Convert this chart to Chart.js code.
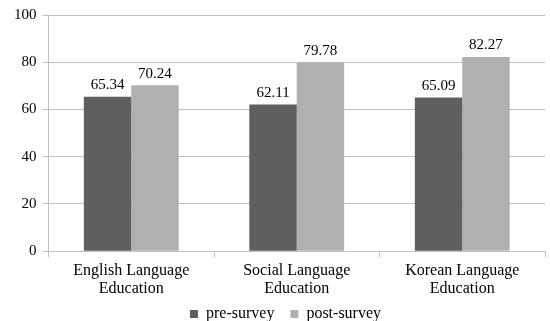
<!DOCTYPE html>
<html><head><meta charset="utf-8">
<script src="https://cdn.jsdelivr.net/npm/chart.js@4/dist/chart.umd.min.js"></script>
<style>html,body{margin:0;padding:0;background:#fff}#wrap{width:550px;height:321px}</style>
</head><body><div id="wrap"><canvas id="c" width="550" height="321"></canvas></div>
<script>
const categories = [["English Language","Education"],["Social Language","Education"],["Korean Language","Education"]];
const preSurvey = [65.34, 62.11, 65.09];
const postSurvey = [70.24, 79.78, 82.27];
const yTicks = [0,20,40,60,80,100];

const labelPlugin = {
  id: 'vals',
  afterDatasetsDraw(chart){
    const ctx = chart.ctx;
    ctx.save();
    ctx.font = '15px "Liberation Serif", "Times New Roman", serif';
    ctx.fillStyle = '#000';
    ctx.textAlign = 'center';
    ctx.textBaseline = 'bottom';
    chart.data.datasets.forEach((ds,i)=>{
      chart.getDatasetMeta(i).data.forEach((bar,j)=>{
        ctx.fillText(ds.data[j].toFixed(2), bar.x, bar.y - 4);
      });
    });
    ctx.restore();
  }
};
const LEGEND_LIFT = 12;
const LEGEND_RIGHT = 9;
const legendShift = {
  id: 'legendShift',
  afterLayout(chart){
    if (chart.legend){
      chart.legend.top -= LEGEND_LIFT; chart.legend.bottom -= LEGEND_LIFT;
      chart.legend.left += LEGEND_RIGHT; chart.legend.right += LEGEND_RIGHT;
    }
  }
};

Chart.defaults.font.family = '"Liberation Serif", "Times New Roman", serif';
Chart.defaults.color = '#000';
new Chart(document.getElementById('c'), {
  type: 'bar',
  data: {
    labels: categories,
    datasets: [
      {label:'pre-survey', data: preSurvey, backgroundColor:'#5f5f5f', barPercentage:1, categoryPercentage:0.573},
      {label:'post-survey', data: postSurvey, backgroundColor:'#b0b0b0', barPercentage:1, categoryPercentage:0.573}
    ]
  },
  options: {
    responsive:false, animation:false,
    layout:{padding:{top:8,right:5,left:8,bottom:-23}},
    plugins:{
      legend:{position:'bottom', labels:{boxWidth:8, boxHeight:8, font:{size:16}, padding:16}},
      tooltip:{enabled:false}
    },
    scales:{
      x:{
        grid:{offset:true, drawOnChartArea:false, tickLength:6, color:'#bfbfbf'},
        border:{color:'#bfbfbf'},
        ticks:{font:{size:16, lineHeight:1.15}, maxRotation:0, padding:4}
      },
      y:{
        min:0, max:100,
        afterBuildTicks(ax){ ax.ticks = yTicks.map(v=>({value:v})); },
        grid:{color:'#bfbfbf', tickLength:6},
        border:{color:'#bfbfbf'},
        ticks:{font:{size:15}, padding:6}
      }
    }
  },
  plugins:[labelPlugin, legendShift]
});
</script></body></html>
